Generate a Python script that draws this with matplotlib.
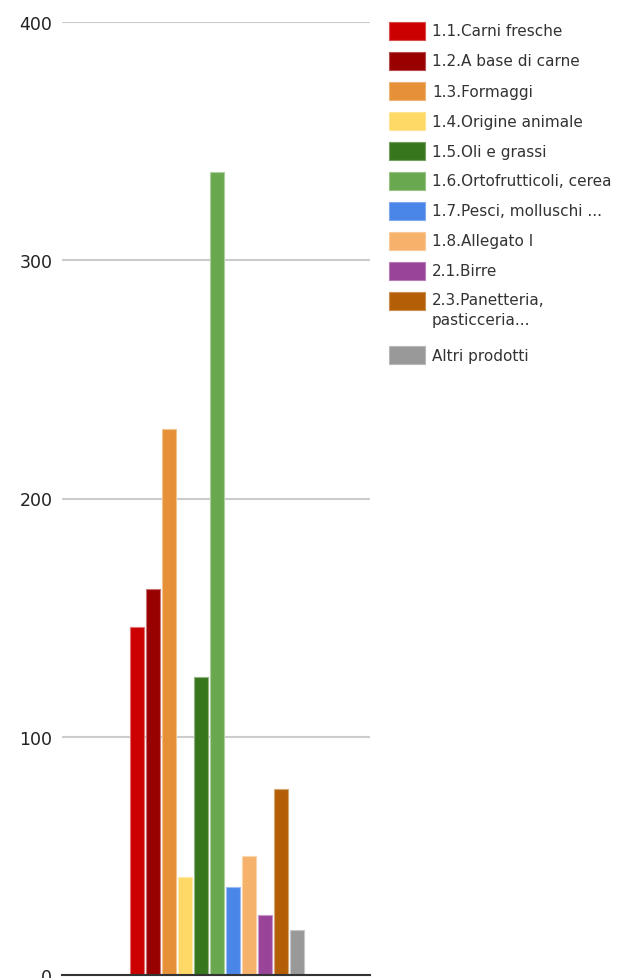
import numpy as np
import matplotlib.pyplot as plt
from matplotlib.patches import Rectangle
from matplotlib.colors import to_rgb

plt.rcParams['font.family'] = ['DejaVu Sans']

# data
categories = ["1.1.Carni fresche", "1.2.A base di carne", "1.3.Formaggi",
              "1.4.Origine animale", "1.5.Oli e grassi", "1.6.Ortofrutticoli, cerea",
              "1.7.Pesci, molluschi ...", "1.8.Allegato I", "2.1.Birre",
              "2.3.Panetteria,\npasticceria...", "Altri prodotti"]
values = [146, 162, 229, 41, 125, 337, 37, 50, 25, 78, 19]
colors = ["#cc0000", "#990000", "#e69138", "#ffd966", "#38761d", "#6aa84f",
          "#4a86e8", "#f6b26b", "#994499", "#b45f06", "#999999"]
yticks = [0, 100, 200, 300, 400]

W, H = 639, 979
fig = plt.figure(figsize=(W / 100, H / 100), dpi=100)
ax = fig.add_axes([62 / W, 3 / H, 308 / W, 953 / H])

def lighter(c, f=0.45):
    r, g, b = to_rgb(c)
    return (r + (1 - r) * f, g + (1 - g) * f, b + (1 - b) * f)

x = np.arange(len(values))
ax.bar(x, values, width=0.875, color=colors,
       edgecolor=[lighter(c) for c in colors], linewidth=0.8, zorder=3)

ax.set_xlim(-4.69, 14.56)
ax.set_ylim(0, 400)
ax.set_yticks(yticks)
ax.set_yticklabels([str(t) for t in yticks], fontsize=12.5, color="#222222")
ax.tick_params(axis="y", length=0, pad=7)
ax.set_xticks([])
ax.grid(axis="y", color="#cccccc", linewidth=1.5, zorder=0)
for s in ["top", "right", "left"]:
    ax.spines[s].set_visible(False)
ax.spines["bottom"].set_color("#333333")
ax.spines["bottom"].set_linewidth(1.5)
ax.spines["bottom"].set_zorder(4)

# legend on the right, drawn by hand so the wrapped label stays top-aligned
y0 = 32
for lab, c in zip(categories, colors):
    fig.patches.append(Rectangle((389 / W, 1 - (y0 + 9) / H), 36 / W, 18 / H,
                                 transform=fig.transFigure, facecolor=c,
                                 edgecolor=lighter(c, 0.3), linewidth=0.8))
    if "\n" in lab:
        fig.text(432 / W, 1 - (y0 - 9) / H, lab, fontsize=11, color="#333333",
                 va="top", linespacing=1.4)
        y0 += 54
    else:
        fig.text(432 / W, 1 - y0 / H, lab, fontsize=11, color="#333333",
                 va="center")
        y0 += 30

fig.savefig("out.png", dpi=100)
